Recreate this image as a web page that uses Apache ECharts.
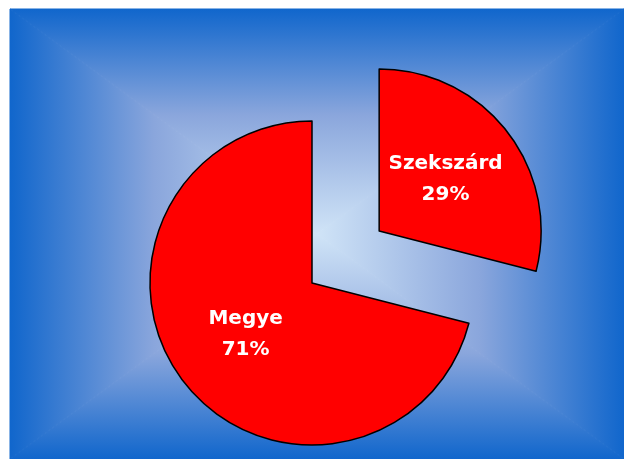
<!DOCTYPE html>
<html>
<head>
	<meta charset="utf-8" />
	<title>Megye / Szekszárd</title>
	<script src="https://cdn.jsdelivr.net/npm/echarts@6/dist/echarts.min.js"></script>
	<style>
		html, body { margin: 0; padding: 0; background: #fff; }
		#chartmain { width: 624px; height: 459px; }
	</style>
</head>
<body>
	<div id="chartmain"></div>
</body>
<script type="text/javascript">
	// adatok
	var names = ['Szekszárd', 'Megye'];
	var values = [29, 71];
	var exploded = [true, false];

	// háttér: négy háromszög, a szélektől a közép felé világosodik
	var bx0 = 10, by0 = 9, bx1 = 624, by1 = 459;
	var cx = (bx0 + bx1) / 2, cy = (by0 + by1) / 2;
	var stops = [
		{ offset: 0, color: '#1066cc' },
		{ offset: 0.47, color: '#8aa6dc' },
		{ offset: 1, color: '#d0e4f7' }
	];
	function tri(points, x, y, x2, y2) {
		var g = new echarts.graphic.LinearGradient(x, y, x2, y2, stops, false);
		return {
			type: 'polygon',
			silent: true,
			shape: { points: points },
			// stroke is the same gradient so the diagonals don't leave seams
			style: { fill: g, stroke: g, lineWidth: 1 }
		};
	}

	var myChart = echarts.init(document.getElementById('chartmain'));
	var option = {
		animation: false,
		graphic: [
			tri([[bx0, by0], [bx1, by0], [cx, cy]], 0, 0, 0, 1),
			tri([[bx0, by1], [bx1, by1], [cx, cy]], 0, 1, 0, 0),
			tri([[bx0, by0], [bx0, by1], [cx, cy]], 0, 0, 1, 0),
			tri([[bx1, by0], [bx1, by1], [cx, cy]], 1, 0, 0, 0)
		],
		series: [
			{
				type: 'pie',
				center: [312, 283],
				radius: 162,
				startAngle: 90,
				clockwise: true,
				selectedMode: 'single',
				selectedOffset: 85,
				avoidLabelOverlap: false,
				emphasis: { disabled: true },
				itemStyle: {
					color: '#ff0000',
					borderColor: '#000',
					borderWidth: 1.5
				},
				label: {
					show: true,
					position: 'inside',
					formatter: '{b}\n{d}%',
					color: '#fff',
					fontFamily: 'DejaVu Sans',
					fontWeight: 'bold',
					fontSize: 20,
					lineHeight: 31,
					padding: [4, 0, 0, 0]
				},
				labelLine: { show: false },
				data: names.map(function (n, i) {
					return { name: n, value: values[i], selected: exploded[i] };
				})
			}
		]
	};
	myChart.setOption(option);
</script>
</html>
